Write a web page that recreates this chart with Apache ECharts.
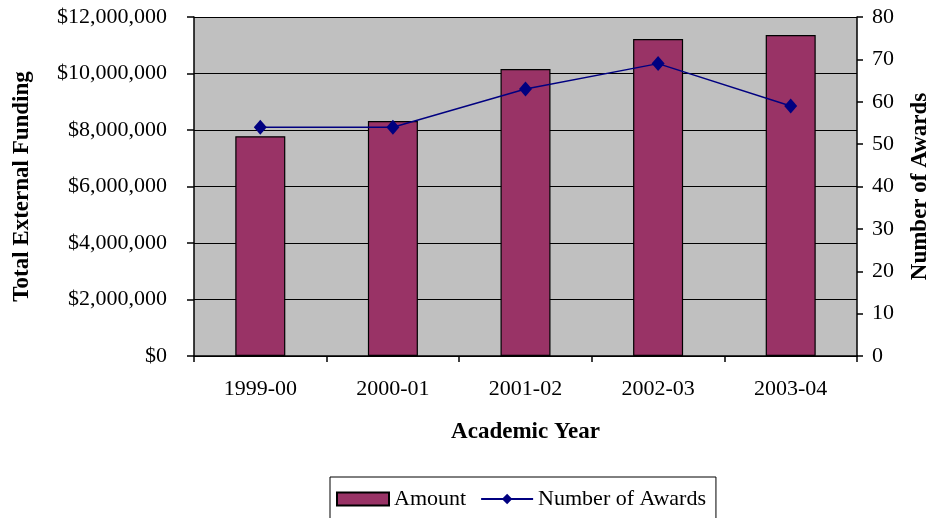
<!DOCTYPE html>
<html>
<head>
<meta charset="utf-8">
<script src="https://cdn.jsdelivr.net/npm/echarts@6/dist/echarts.min.js"></script>
<style>
html,body{margin:0;padding:0;background:#fff;}
#c{width:931px;height:518px;}
</style>
</head>
<body>
<div id="c"></div>
<script>
const categories = ['1999-00', '2000-01', '2001-02', '2002-03', '2003-04'];
const amounts = [7780000, 8320000, 10160000, 11220000, 11360000];
const awards = [54, 54, 63, 69, 59];

const FONT = '"Liberation Serif", "Times New Roman", serif';
const chart = echarts.init(document.getElementById('c'));
chart.setOption({
  animation: false,
  backgroundColor: '#ffffff',
  textStyle: { fontFamily: FONT, color: '#000' },
  grid: {
    left: 194, right: 74, top: 17, bottom: 162,
    outerBoundsMode: 'none',
    containLabel: false,
    show: true, backgroundColor: '#C0C0C0', borderWidth: 0
  },
  legend: {
    left: 330, top: 477,
    width: 388,
    padding: [11, 10, 30, 6],
    borderColor: '#000', borderWidth: 1,
    itemWidth: 52, itemHeight: 13, itemGap: 14,
    textStyle: { fontFamily: FONT, fontSize: 22, color: '#000' },
    data: [
      { name: 'Amount', icon: 'rect' },
      { name: 'Number of Awards' }
    ]
  },
  xAxis: {
    type: 'category',
    data: categories,
    name: 'Academic Year',
    nameLocation: 'middle',
    nameGap: 65,
    nameTextStyle: { fontFamily: FONT, fontSize: 23, fontWeight: 'bold', color: '#000' },
    axisLine: { lineStyle: { color: '#000', width: 1.5 } },
    axisTick: { show: true, length: 6, lineStyle: { color: '#000', width: 1.5 } },
    axisLabel: { fontFamily: FONT, fontSize: 22, color: '#000', margin: 22 }
  },
  yAxis: [
    {
      type: 'value',
      min: 0, max: 12000000, interval: 2000000,
      name: 'Total External Funding',
      nameLocation: 'middle',
      nameRotate: 90,
      nameGap: 160,
      nameTextStyle: { fontFamily: FONT, fontSize: 23, fontWeight: 'bold', color: '#000' },
      axisLine: { show: true, lineStyle: { color: '#000', width: 1.5 } },
      axisTick: { show: true, length: 7, lineStyle: { color: '#000', width: 1.5 } },
      splitLine: { show: true, lineStyle: { color: '#000', width: 1.2 } },
      axisLabel: {
        fontFamily: FONT, fontSize: 22, color: '#000', margin: 27,
        formatter: v => '$' + v.toLocaleString('en-US')
      }
    },
    {
      type: 'value',
      min: 0, max: 80, interval: 10,
      position: 'right',
      name: 'Number of Awards',
      nameLocation: 'middle',
      nameRotate: 90,
      nameGap: 52,
      nameTextStyle: { fontFamily: FONT, fontSize: 23, fontWeight: 'bold', color: '#000' },
      axisLine: { show: true, lineStyle: { color: '#000', width: 1.5 } },
      axisTick: { show: true, length: 6, inside: false, lineStyle: { color: '#000', width: 1.5 } },
      splitLine: { show: false },
      axisLabel: { fontFamily: FONT, fontSize: 22, color: '#000', margin: 15 }
    }
  ],
  series: [
    {
      name: 'Amount',
      type: 'bar',
      yAxisIndex: 0,
      data: amounts,
      barWidth: 50,
      itemStyle: { color: '#993366', borderColor: '#000', borderWidth: 1.2 }
    },
    {
      name: 'Number of Awards',
      type: 'line',
      yAxisIndex: 1,
      data: awards,
      symbol: 'diamond',
      symbolSize: [13, 15],
      lineStyle: { color: '#000080', width: 1.5 },
      itemStyle: { color: '#000080' }
    }
  ]
});
</script>
</body>
</html>
